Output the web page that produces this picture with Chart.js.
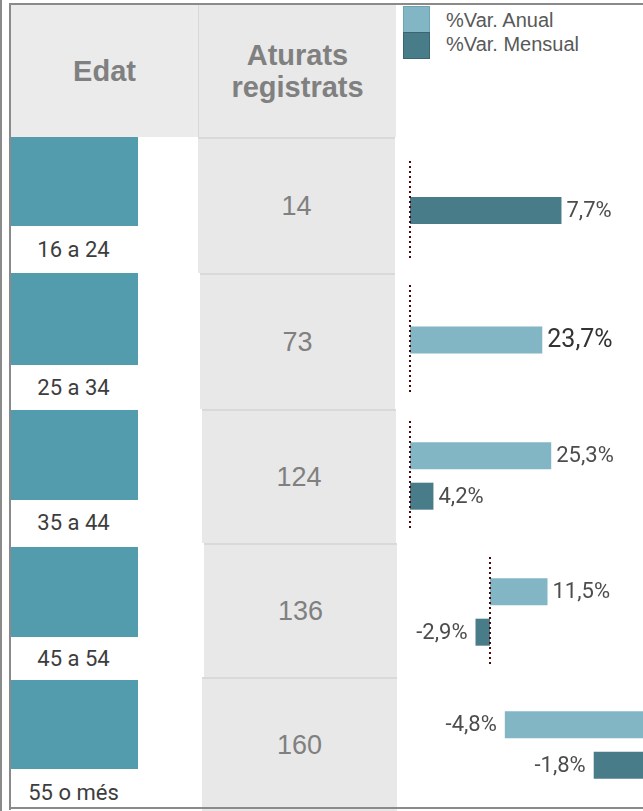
<!DOCTYPE html>
<html>
<head>
<meta charset="utf-8">
<title>Aturats registrats per edat</title>
<script src="https://cdn.jsdelivr.net/npm/chart.js"></script>
<style>
  body {
    margin: 0;
    width: 643px;
    height: 811px;
    overflow: hidden;
    position: relative;
    background: #fff;
    font-family: "Liberation Sans", Arial, sans-serif;
  }
  .abs { position: absolute; }
  .line { position: absolute; background: #8a8a8a; }
  .head {
    position: absolute;
    display: flex;
    align-items: center;
    justify-content: center;
    text-align: center;
    font-weight: bold;
    font-size: 29px;
    line-height: 32px;
    color: #808080;
    background: #ebebeb;
  }
  .teal { position: absolute; background: #529cae; }
  .age {
    position: absolute;
    font-family: Roboto, sans-serif;
    font-size: 22px;
    line-height: 22px;
    color: #3d3d3d;
    text-align: center;
  }
  .cell {
    position: absolute;
    box-sizing: border-box;
    display: flex;
    align-items: center;
    justify-content: center;
    background: #e8e8e8;
    border-top: 2px solid #d9d9d9;
    font-size: 27px;
    color: #808080;
  }
  .sw { position: absolute; left: 403px; width: 25px; height: 25px; }
  .lg {
    position: absolute;
    left: 446px;
    font-size: 20px;
    line-height: 20px;
    color: #595959;
  }
  canvas.row { position: absolute; left: 400px; }
</style>
</head>
<body>

<!-- frame and headers -->
<div class="line" style="left:0;top:0;width:2px;height:811px"></div>
<div class="line" style="left:9px;top:3px;width:2px;height:807px"></div>
<div class="line" style="left:9px;top:3px;width:634px;height:2px"></div>
<div class="head" style="left:11px;top:5px;width:187px;height:132px">Edat</div>
<div class="head" style="left:198px;top:5px;width:197px;height:132px;background:#e9e9e9;border-left:1px solid #d8d8d8">Aturats<br>registrats</div>

<!-- legend -->
<div class="sw" id="swAnual" style="top:6px"></div>
<div class="sw" id="swMensual" style="top:32px"></div>
<div class="lg" style="top:10px">%Var. Anual</div>
<div class="lg" style="top:34px">%Var. Mensual</div>

<script>
// age groups and registered unemployed
const edats = ['16 a 24', '25 a 34', '35 a 44', '45 a 54', '55 o més'];
const aturats = [14, 73, 124, 136, 160];

// year-on-year and month-on-month change, %
const varAnual = [null, 23.7, 25.3, 11.5, -4.8];
const varMensual = [7.7, null, 4.2, -2.9, -1.8];

// each row gets its own x range
const axisMin = [0, 0, 0, -16, -8];
const axisMax = [12.2, 43, 43, 32, 0.1];

const colAnual = '#82b6c4';
const colMensual = '#497c89';

// row layout: teal block [top, bottom], age label top, cell [left, top, right, bottom], chart [top, height]
const tealY = [[137, 226], [273, 365], [410, 500], [547, 637], [680, 769]];
const ageTop = [239, 377, 512, 648, 782];
const cellBox = [[198, 137, 395, 273], [200, 273, 395, 409], [202, 409, 396, 543], [204, 543, 397, 677], [202, 677, 397, 811]];
const chartBox = [[161, 99], [285, 110], [421, 110], [557, 110], [690, 110]];
const labelSize = [22, 25, 22, 22, 22];
const labelColor = ['#4d4d4d', '#333333', '#4d4d4d', '#4d4d4d', '#4d4d4d'];

document.getElementById('swAnual').style.cssText += ';background:' + colAnual + ';border:1px solid #6ea3b1';
document.getElementById('swMensual').style.cssText += ';background:' + colMensual + ';border:1px solid #3a6571';

const fmt = v => v.toFixed(1).replace('.', ',') + '%';

// dotted zero line over the bars
const zeroLine = {
  id: 'zeroLine',
  afterDatasetsDraw(chart) {
    const x = chart.scales.x.getPixelForValue(0);
    const {top, bottom} = chart.chartArea;
    const ctx = chart.ctx;
    ctx.save();
    ctx.strokeStyle = '#4a0808';
    ctx.lineWidth = 2;
    ctx.setLineDash([2, 3]);
    ctx.beginPath();
    ctx.moveTo(x, top);
    ctx.lineTo(x, bottom);
    ctx.stroke();
    ctx.restore();
  }
};

// percentage next to the end of each bar
const valueLabels = {
  id: 'valueLabels',
  afterDatasetsDraw(chart, args, opts) {
    const ctx = chart.ctx;
    ctx.save();
    ctx.font = opts.size + 'px Roboto';
    ctx.fillStyle = opts.color;
    ctx.textBaseline = 'middle';
    chart.data.datasets.forEach((ds, i) => {
      chart.getDatasetMeta(i).data.forEach((bar, j) => {
        const v = ds.data[j];
        if (v === null || v === undefined) return;
        const neg = v < 0;
        ctx.textAlign = neg ? 'right' : 'left';
        ctx.fillText(fmt(v), bar.x + (neg ? -8 : 5), bar.y + 1);
      });
    });
    ctx.restore();
  }
};

edats.forEach((edat, i) => {
  const teal = document.createElement('div');
  teal.className = 'teal';
  teal.style.cssText = `left:11px;top:${tealY[i][0]}px;width:127px;height:${tealY[i][1] - tealY[i][0]}px`;
  document.body.appendChild(teal);

  const age = document.createElement('div');
  age.className = 'age';
  age.style.cssText = `left:11px;width:125px;top:${ageTop[i]}px`;
  age.textContent = edat;
  document.body.appendChild(age);

  const [l, t, r, b] = cellBox[i];
  const cell = document.createElement('div');
  cell.className = 'cell';
  cell.style.cssText = `left:${l}px;top:${t}px;width:${r - l}px;height:${b - t}px`;
  cell.textContent = aturats[i];
  document.body.appendChild(cell);

  // canvas starts 10px left of the plot so the zero line is not cut
  const cv = document.createElement('canvas');
  cv.className = 'row';
  cv.width = 250;
  cv.height = chartBox[i][1];
  cv.style.top = chartBox[i][0] + 'px';
  document.body.appendChild(cv);

  new Chart(cv, {
    type: 'bar',
    data: {
      labels: [edat],
      datasets: [
        { label: '%Var. Anual', data: [varAnual[i]], backgroundColor: colAnual },
        { label: '%Var. Mensual', data: [varMensual[i]], backgroundColor: colMensual }
      ]
    },
    options: {
      indexAxis: 'y',
      responsive: false,
      animation: false,
      devicePixelRatio: 1,
      layout: { padding: { left: 10, right: 0, top: 0, bottom: 0 } },
      datasets: {
        bar: { categoryPercentage: 0.734, barPercentage: 0.675, maxBarThickness: 27, skipNull: true }
      },
      scales: {
        x: { display: false, min: axisMin[i], max: axisMax[i] },
        y: { display: false }
      },
      plugins: {
        legend: { display: false },
        tooltip: { enabled: false },
        valueLabels: { size: labelSize[i], color: labelColor[i] }
      }
    },
    plugins: [zeroLine, valueLabels]
  });
});

// bottom frame line drawn last so it sits over the last cell
const bottom = document.createElement('div');
bottom.className = 'line';
bottom.style.cssText = 'left:9px;top:807px;width:634px;height:2px';
document.body.appendChild(bottom);
</script>
</body>
</html>
